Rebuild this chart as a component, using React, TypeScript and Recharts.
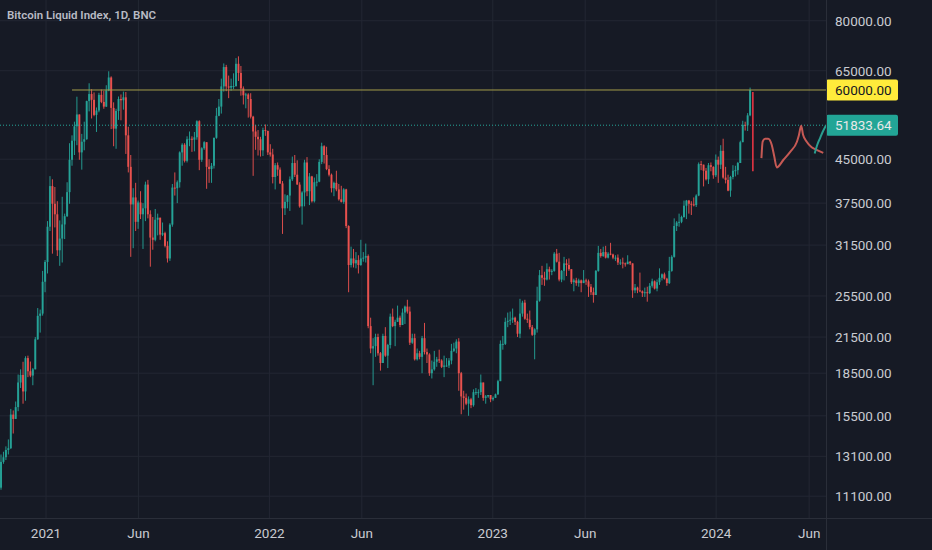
import React from "react";
import { Bar, CartesianGrid, ComposedChart, Line, ReferenceLine, XAxis, YAxis } from "recharts";

const BG = "#161a25";
const GRID = "#232733";
const BORDER = "#2a2e39";
const TEXT = "#c9cbd1";
const UP = "#26a69a";
const DOWN = "#ef5350";
const FONT = "Roboto, 'Noto Sans', sans-serif";

const WIDTH = 932;
const HEIGHT = 550;
const AXIS_W = 106;
const AXIS_H = 32;
const PLOT_W = WIDTH - AXIS_W;
const PLOT_H = HEIGHT - AXIS_H;

// x = days since 2021-01-01; 4-day candles from 2020-10-18
const START_DAY = -75;
const STEP = 4;
const FIRST_OPEN = 11500;

const closes = [
  12800, 13050, 13450, 13550, 15580, 15300, 16070, 17800, 18370, 17150,
  19700, 18650, 18320, 18800, 21300, 23480, 23700, 27050, 29370, 34000,
  40250, 37400, 35800, 30830, 32370, 34320, 35520, 39250, 44900, 48600,
  51600, 54200, 46300, 48400, 48900, 57300, 59000, 57600, 54100, 55100,
  58800, 57100, 56000, 59900, 63200, 55700, 51100, 55000, 57800, 57500,
  58200, 49700, 43600, 37300, 38400, 34700, 37600, 35800, 36700, 40500,
  35800, 32500, 32200, 35000, 35300, 32900, 33100, 31400, 29800, 34300,
  40000, 39900, 40900, 46300, 47800, 44700, 48900, 49000, 48800, 49300,
  52700, 44900, 47100, 48300, 43600, 43200, 43800, 49200, 53900, 56000,
  60900, 66000, 60900, 60600, 61000, 61000, 66900, 64400, 60400, 58700,
  58900, 57800, 53700, 50500, 49400, 48900, 46700, 50800, 50600, 46300,
  45900, 41800, 43900, 43100, 40700, 36700, 37700, 38700, 41400, 44300,
  42200, 40500, 37000, 39200, 44400, 39400, 41900, 37800, 40900, 41000,
  44500, 47500, 45800, 43200, 42200, 39900, 40800, 39700, 38100, 37700,
  39700, 34100, 29000, 29800, 29200, 29600, 29000, 29800, 29900, 30100,
  22500, 20500, 20700, 21500, 20100, 19300, 21600, 19900, 20800, 23400,
  22500, 22900, 23300, 22600, 23800, 24400, 23900, 21000, 21400, 19600,
  20100, 19800, 21400, 20200, 20000, 18500, 18800, 19400, 19600, 19500,
  19000, 19100, 19100, 19500, 20300, 20500, 21100, 18500, 16800, 16700,
  16300, 16600, 16200, 17100, 17100, 17100, 17800, 16700, 16800, 16900,
  16600, 16700, 16950, 17900, 20900, 20900, 22900, 23000, 23100, 23300,
  22900, 21800, 23700, 24800, 23200, 23100, 22400, 21700, 22200, 25000,
  27800, 27500, 27300, 28500, 28200, 28300, 30400, 29400, 27300, 28300,
  29200, 29000, 28500, 27000, 27200, 26900, 27200, 26900, 27200, 27100,
  26500, 25900, 25600, 28300, 30500, 30100, 30600, 29900, 30400, 30300,
  29900, 29900, 29300, 29300, 29200, 29100, 29400, 29200, 26100, 26400,
  26100, 26000, 25800, 25900, 25800, 26600, 27100, 26300, 27000, 27500,
  27900, 27400, 26900, 28300, 30000, 34100, 34600, 34700, 35400, 37100,
  37900, 37400, 37300, 37200, 38700, 44100, 44000, 42900, 41400, 43900,
  43600, 42100, 44900, 44000, 46600, 41700, 41300, 39500, 41800, 42900,
  43000, 44300, 48300, 51900, 51800, 54000, 60000,
];

const highs = [
  13200, 13350, 13650, 14050, 15950, 15850, 16450, 18400, 18800, 19400,
  19850, 19900, 19420, 18900, 21500, 24250, 24100, 28300, 29600, 34800,
  41950, 41400, 40100, 37800, 34900, 38500, 35900, 40900, 48100, 49700,
  52600, 58350, 54200, 50000, 52600, 57400, 61700, 60200, 59400, 55800,
  59300, 60100, 59800, 61200, 64850, 63500, 57000, 55500, 58400, 58900,
  59600, 59500, 51500, 45800, 39900, 40800, 37900, 39400, 37500, 41000,
  41300, 36400, 35400, 36600, 35900, 35200, 34600, 33300, 32000, 34500,
  40600, 42600, 41200, 46500, 48100, 48100, 49500, 50500, 49500, 50400,
  52900, 52900, 47300, 48500, 48300, 45000, 44300, 49200, 55700, 57800,
  62900, 67000, 66600, 63700, 62900, 64300, 68500, 69000, 66300, 60900,
  59300, 59200, 59200, 53900, 51900, 50800, 49400, 51300, 52000, 50700,
  47900, 47000, 44300, 44400, 43500, 41100, 38900, 38800, 41900, 45500,
  45800, 44800, 40900, 39400, 44900, 45400, 42500, 42000, 41700, 42300,
  45000, 48200, 47700, 47400, 43900, 42400, 41000, 42900, 40600, 40300,
  39900, 39800, 34200, 31300, 31000, 30600, 30200, 32200, 30600, 31700,
  30300, 23300, 21400, 21800, 21800, 20200, 21800, 22400, 20900, 23700,
  24200, 23100, 24500, 23500, 24200, 24500, 25100, 24400, 21800, 21800,
  20500, 20300, 21600, 22800, 20500, 20100, 19500, 20300, 19800, 20400,
  19600, 19900, 19700, 19700, 20900, 21000, 21300, 21400, 18600, 17200,
  17000, 16800, 16700, 17300, 17400, 17300, 18400, 17800, 16900, 16900,
  16900, 16800, 17000, 18000, 21200, 21600, 23300, 23800, 23900, 24200,
  23400, 23000, 25200, 25000, 25100, 23700, 24000, 22600, 22300, 26500,
  28400, 28900, 28200, 29200, 28800, 28500, 30600, 31000, 30500, 28400,
  30000, 29700, 29800, 28500, 27400, 27500, 27400, 27300, 28400, 27400,
  27300, 26800, 26400, 28400, 31400, 31000, 31300, 31400, 30600, 31800,
  30400, 30200, 30300, 29700, 29900, 29300, 30200, 29500, 29200, 26800,
  26500, 28100, 26100, 26400, 26500, 26900, 27400, 27200, 27300, 28600,
  28000, 28100, 27500, 30000, 30200, 35200, 34800, 35900, 35600, 37900,
  38000, 38000, 37800, 38400, 38900, 44400, 44700, 44000, 43400, 44300,
  44400, 43700, 45900, 45500, 47700, 49000, 43600, 42200, 42000, 43900,
  43800, 44500, 48600, 52800, 52600, 54500, 60600,
];

const lows = [
  11400, 12700, 12900, 13200, 13500, 14400, 15400, 15800, 17400, 16300,
  16500, 18200, 18200, 17600, 18900, 21250, 21900, 23500, 25900, 28000,
  33400, 30400, 33900, 30100, 28900, 29300, 32300, 35400, 37400, 43800,
  45800, 47700, 44900, 43100, 46700, 48800, 54900, 53300, 53800, 50400,
  54700, 56800, 55500, 55900, 59700, 51000, 47500, 47000, 53000, 52900,
  55300, 46000, 42600, 30000, 31100, 33400, 33700, 35100, 31000, 34800,
  35200, 28800, 30900, 32000, 32800, 32200, 32700, 31200, 29300, 29500,
  34000, 38700, 37500, 40000, 43800, 44400, 44400, 47500, 46400, 46500,
  48800, 43000, 44500, 46800, 39800, 40800, 40800, 43300, 49000, 53800,
  54400, 59600, 59700, 58000, 59800, 60200, 60800, 62300, 58600, 56500,
  55600, 53500, 53300, 42000, 46800, 45700, 45500, 45600, 49600, 45800,
  45500, 40700, 39700, 42000, 40600, 33000, 35700, 36700, 36300, 41100,
  41800, 41600, 36800, 34300, 37000, 38600, 37200, 37600, 37600, 40200,
  40900, 44100, 44200, 43000, 41900, 39200, 38600, 39400, 37900, 37600,
  37400, 33800, 25900, 28700, 28700, 28600, 28000, 28900, 29400, 29300,
  22300, 20100, 17600, 19800, 19900, 18700, 19300, 19800, 18900, 20500,
  22400, 20700, 22900, 22400, 22600, 22700, 23700, 20800, 20900, 19500,
  19500, 19600, 18500, 20000, 19300, 18300, 18100, 18700, 19000, 19300,
  18900, 18200, 19000, 18900, 19200, 20200, 20100, 17200, 15600, 15900,
  16200, 15500, 16000, 16100, 16900, 16700, 16900, 16500, 16300, 16700,
  16400, 16500, 16700, 16900, 17900, 20400, 20800, 22400, 22600, 22800,
  22600, 21500, 21400, 23400, 23100, 22800, 22200, 21600, 19600, 21900,
  24900, 26700, 26600, 27200, 27300, 27800, 28200, 29300, 27100, 27000,
  27200, 27700, 28300, 26800, 26000, 26600, 26500, 25900, 26900, 26700,
  25400, 25600, 24800, 26200, 28200, 29900, 30000, 29800, 29800, 30200,
  29700, 29500, 29000, 29000, 28600, 28800, 29200, 29000, 25300, 25800,
  25800, 25900, 25400, 25400, 24900, 25700, 26400, 26200, 26000, 26700,
  27200, 27300, 26600, 26800, 28200, 29900, 33400, 34000, 34500, 35300,
  35100, 35900, 35700, 37000, 36900, 38600, 43000, 40200, 41200, 40600,
  42800, 41500, 41800, 40800, 43200, 41500, 40700, 39400, 38500, 41400,
  41900, 42200, 44300, 48300, 50700, 50600, 53800,
];

// hand-drawn projection after the last candle
const spikeDays = [1155, 1155];
const spikePrices = [59500, 42800];
const redPathDays = [1169, 1171, 1175, 1180, 1186, 1190, 1194, 1205, 1216, 1227, 1230, 1234, 1237, 1243, 1251, 1259, 1270];
const redPathPrices = [45200, 48400, 49000, 49000, 47700, 45500, 43500, 44900, 46400, 48400, 49600, 51700, 49800, 48400, 47300, 46800, 46200];
const tealPathDays = [1256, 1260, 1265, 1269, 1274.5];
const tealPathPrices = [46100, 47700, 49200, 50400, 51800];

const LEVEL_PRICE = 60000;
const LEVEL_FROM_DAY = 42.5;
const LAST_PRICE = 51833.64;

const X_DOMAIN = [-75.2, 1274.5];
const Y_DOMAIN = [10138, 87200];
const xTickDays = [0, 151, 365, 516, 730, 881, 1095, 1247];
const xTickLabels = ["2021", "Jun", "2022", "Jun", "2023", "Jun", "2024", "Jun"];
const gridPrices = [80000, 65000, 45000, 37500, 31500, 25500, 21500, 18500, 15500, 13100, 11100];
const yTicks = [80000, 65000, LEVEL_PRICE, LAST_PRICE, 45000, 37500, 31500, 25500, 21500, 18500, 15500, 13100, 11100];

const candles = closes.map((close, i) => {
  const open = i === 0 ? FIRST_OPEN : closes[i - 1];
  return {
    day: START_DAY + i * STEP + 1.5,
    open,
    close,
    high: Math.max(highs[i], open, close),
    low: Math.min(lows[i], open, close),
  };
});

const toPoints = (days: number[], prices: number[]) => days.map((day, i) => ({ day, price: prices[i] }));
const spike = toPoints(spikeDays, spikePrices);
const redPath = toPoints(redPathDays, redPathPrices);
const tealPath = toPoints(tealPathDays, tealPathPrices);
const levelLine = toPoints([LEVEL_FROM_DAY, X_DOMAIN[1]], [LEVEL_PRICE, LEVEL_PRICE]);

function Candle(props: any) {
  const { x, y, width, height, payload } = props;
  if (!payload || !Number.isFinite(y) || !Number.isFinite(height)) return null;
  const { open, close, high, low } = payload;
  const yTop = Math.min(y, y + height);
  const yBot = Math.max(y, y + height);
  const lh = Math.log(high);
  const ll = Math.log(low);
  const toY = (v: number) => (lh === ll ? yTop : yTop + ((yBot - yTop) * (lh - Math.log(v))) / (lh - ll));
  const cx = x + width / 2;
  const color = close >= open ? UP : DOWN;
  const bodyTop = toY(Math.max(open, close));
  const bodyBot = toY(Math.min(open, close));
  return (
    <g>
      <line x1={cx} x2={cx} y1={yTop} y2={yBot} stroke={color} strokeWidth={1} strokeOpacity={0.9} />
      <rect x={cx - 1} y={bodyTop} width={2} height={Math.max(1, bodyBot - bodyTop)} fill={color} fillOpacity={0.9} />
    </g>
  );
}

function PriceTick(props: any) {
  const { y, payload } = props;
  const v = payload.value as number;
  const label = v.toFixed(2);
  const tx = PLOT_W + 9;
  if (v === LEVEL_PRICE || v === LAST_PRICE) {
    const fill = v === LEVEL_PRICE ? "#ffeb3b" : "#22a596";
    const color = v === LEVEL_PRICE ? "#131722" : "#e8e8e8";
    return (
      <g>
        <rect x={PLOT_W} y={y - 10.5} width={72} height={21} rx={2} fill={fill} />
        <text x={tx} y={y} dominantBaseline="central" fill={color} fontSize={13.5} fontFamily={FONT}>
          {label}
        </text>
      </g>
    );
  }
  return (
    <text x={tx} y={y} dominantBaseline="central" fill={TEXT} fontSize={13.5} fontFamily={FONT}>
      {label}
    </text>
  );
}

function TimeTick(props: any) {
  const { x, payload } = props;
  const label = xTickLabels[xTickDays.indexOf(payload.value)] ?? "";
  return (
    <text x={x} y={PLOT_H + 15} dominantBaseline="central" textAnchor="middle" fill={TEXT} fontSize={13.5} fontFamily={FONT}>
      {label}
    </text>
  );
}

export default function App() {
  return (
    <div style={{ position: "fixed", left: 0, top: 0, width: WIDTH, height: HEIGHT, background: BG, overflow: "hidden" }}>
      <ComposedChart width={WIDTH} height={HEIGHT} data={candles} margin={{ top: 0, right: 0, bottom: 0, left: 0 }}>
        <CartesianGrid stroke={GRID} horizontalValues={gridPrices} verticalValues={xTickDays} />
        <XAxis
          type="number"
          dataKey="day"
          domain={X_DOMAIN}
          allowDataOverflow
          ticks={xTickDays}
          interval={0}
          height={AXIS_H}
          axisLine={false}
          tickLine={false}
          tick={(p: any) => <TimeTick {...p} />}
        />
        <YAxis
          type="number"
          orientation="right"
          scale="log"
          domain={Y_DOMAIN}
          allowDataOverflow
          ticks={yTicks}
          interval={0}
          width={AXIS_W}
          axisLine={false}
          tickLine={false}
          tick={(p: any) => <PriceTick {...p} />}
        />
        <ReferenceLine y={LAST_PRICE} stroke={UP} strokeDasharray="1 2" />
        <Line data={levelLine} dataKey="price" stroke="#a39d48" strokeWidth={1} dot={false} activeDot={false} isAnimationActive={false} />
        <Bar
          dataKey={(d: any) => [d.low, d.high]}
          barSize={2}
          shape={(p: any) => <Candle {...p} />}
          isAnimationActive={false}
        />
        <Line data={spike} dataKey="price" type="linear" stroke="#f23645" strokeWidth={1.5} dot={false} activeDot={false} isAnimationActive={false} />
        <Line data={redPath} dataKey="price" type="monotone" stroke="#d9605a" strokeOpacity={0.9} strokeWidth={2} dot={false} activeDot={false} isAnimationActive={false} />
        <Line data={tealPath} dataKey="price" type="monotone" stroke="#2a9d8f" strokeWidth={2} dot={false} activeDot={false} isAnimationActive={false} />
      </ComposedChart>
      <div style={{ position: "absolute", left: PLOT_W, top: 0, width: 1, height: HEIGHT, background: BORDER }} />
      <div style={{ position: "absolute", left: 0, top: PLOT_H, width: WIDTH, height: 1, background: BORDER }} />
      <div
        style={{
          position: "absolute",
          left: 7,
          top: 8,
          fontFamily: FONT,
          fontSize: 11.5,
          fontWeight: 600,
          color: "#b8bbc4",
          lineHeight: "14px",
          whiteSpace: "nowrap",
        }}
      >
        Bitcoin Liquid Index, 1D, BNC
      </div>
    </div>
  );
}
